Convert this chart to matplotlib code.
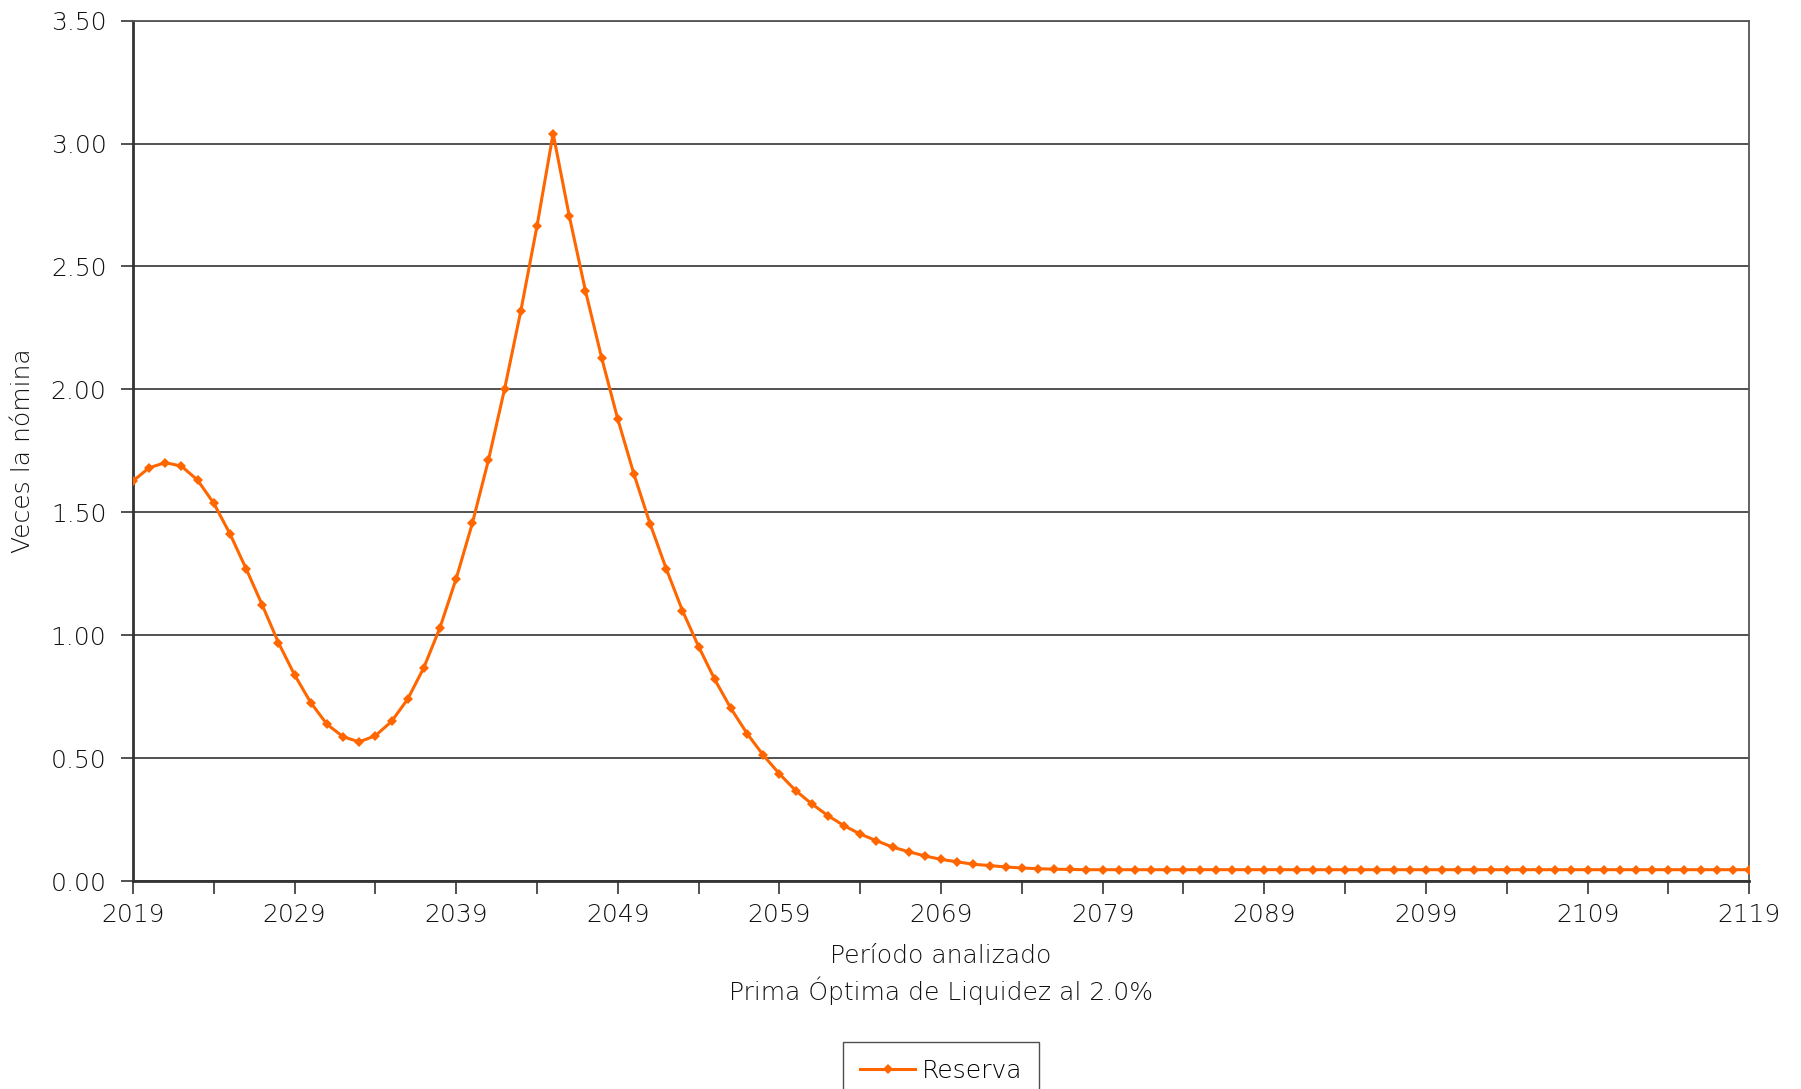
import matplotlib
matplotlib.use("Agg")
import matplotlib.pyplot as plt
from matplotlib.ticker import FixedLocator

years = list(range(2019, 2120))
reserva = [
    1.627, 1.681, 1.702, 1.688, 1.631, 1.537, 1.413, 1.271, 1.123, 0.970,  # 2019-2028
    0.839, 0.726, 0.638, 0.587, 0.566, 0.591, 0.649, 0.740, 0.868, 1.031,  # 2029-2038
    1.230, 1.455, 1.713, 2.003, 2.319, 2.664, 3.041, 2.705, 2.401, 2.129,  # 2039-2048
    1.879, 1.655, 1.453, 1.270, 1.100, 0.954, 0.820, 0.702, 0.600, 0.512,  # 2049-2058
    0.436, 0.368, 0.314, 0.266, 0.225, 0.191, 0.164, 0.138, 0.119, 0.102,  # 2059-2068
    0.088, 0.078, 0.068, 0.063, 0.057, 0.053, 0.050, 0.048, 0.047, 0.046,  # 2069-2078
] + [0.046] * 41  # 2079-2119

y_ticks = [0.0, 0.5, 1.0, 1.5, 2.0, 2.5, 3.0, 3.5]
x_major = list(range(2019, 2120, 10))
x_minor = list(range(2024, 2120, 10))

plt.rcParams['font.family'] = ['DejaVu Sans']
plt.rcParams['font.weight'] = 'light'
plt.rcParams['axes.labelweight'] = 'light'

fig = plt.figure(figsize=(18.01, 10.89), dpi=100)
ax = fig.add_axes([0.0738, 0.191, 0.8974, 0.790])

line_color = '#FF6600'
ax.plot(years, reserva, color=line_color, linewidth=2.2, marker='D',
        markersize=5, markeredgewidth=0, label='Reserva', zorder=3)

ax.set_xlim(2019, 2119)
ax.set_ylim(0, 3.5)
ax.yaxis.set_major_locator(FixedLocator(y_ticks))
ax.set_yticklabels([f"{v:.2f}" for v in y_ticks])
ax.xaxis.set_major_locator(FixedLocator(x_major))
ax.xaxis.set_minor_locator(FixedLocator(x_minor))

ax.grid(axis='y', color='#222222', linewidth=1.1, zorder=1)
for s in ['left', 'bottom']:
    ax.spines[s].set_color('#333333')
    ax.spines[s].set_linewidth(2)
for s in ['top', 'right']:
    ax.spines[s].set_color('#555555')
    ax.spines[s].set_linewidth(1.3)

text_color = '#111111'
ax.tick_params(axis='both', which='both', direction='out', colors='#333333',
               labelcolor=text_color, labelsize=18)
ax.tick_params(axis='x', which='major', length=9, width=1.2, pad=7)
ax.tick_params(axis='x', which='minor', length=9, width=1.2)
ax.tick_params(axis='y', which='major', length=9, width=1.2, pad=10)

ax.set_ylabel('Veces la nómina', fontsize=18, color=text_color, labelpad=11)
ax.set_xlabel('Período analizado\nPrima Óptima de Liquidez al 2.0%',
              fontsize=18, color=text_color, labelpad=12, linespacing=1.35)

leg = fig.legend(loc='upper center', bbox_to_anchor=(0.5225, 0.0545),
                 fontsize=18, frameon=True, fancybox=False, borderpad=0.68,
                 handlelength=2.2, handletextpad=0.25)
leg.get_frame().set_edgecolor('#222222')
leg.get_frame().set_linewidth(1)

fig.savefig('out.png', dpi=100)
